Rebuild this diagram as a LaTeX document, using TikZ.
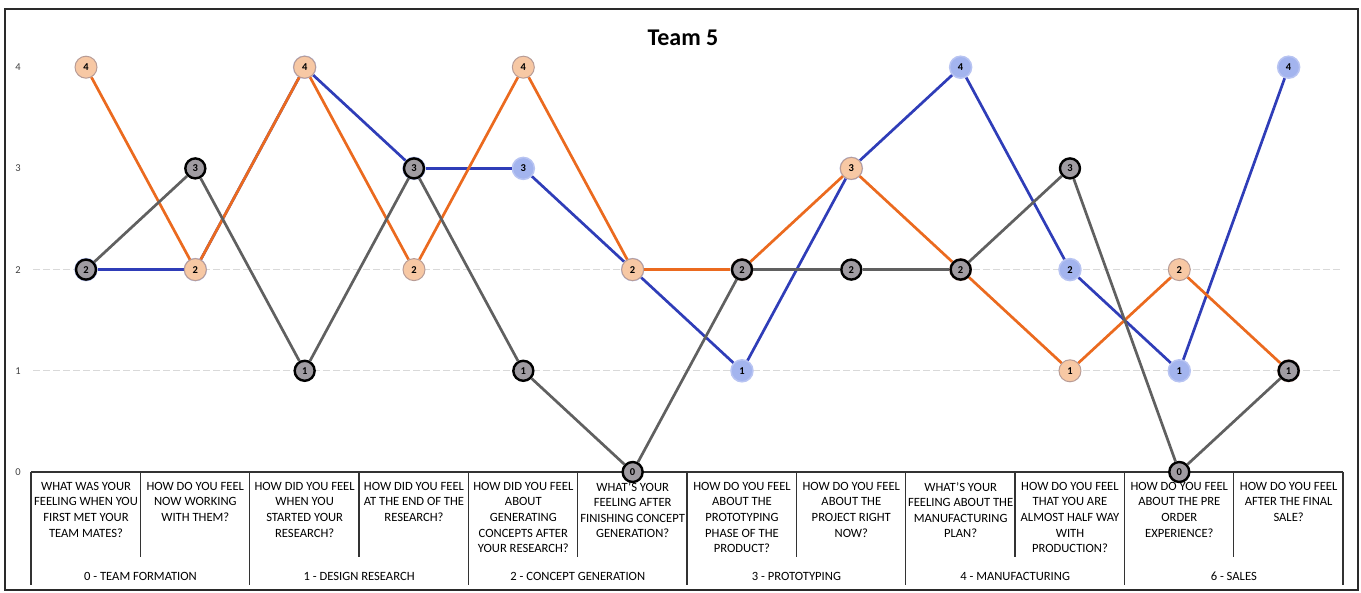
\documentclass[tikz,border=0pt]{standalone}
\usepackage{fontspec}
\setmainfont{Carlito}
\definecolor{serOrange}{HTML}{EB6A1F}
\definecolor{serBlue}{HTML}{2F3DB8}
\definecolor{serGray}{HTML}{606060}
\definecolor{peach}{HTML}{F7C8A4}
\definecolor{peachrim}{HTML}{B89C96}
\definecolor{skyfill}{HTML}{A3B4EE}
\definecolor{skyrim}{HTML}{B8C4F2}
\definecolor{dotgray}{HTML}{A09CA2}
\definecolor{framegray}{HTML}{2A2A2A}

\tikzset{
  mark base/.style={circle, inner sep=0pt, minimum size=22pt,
    font=\bfseries\fontsize{10.5}{10.5}\selectfont, text=black},
  bmark/.style={mark base, fill=skyfill, draw=skyrim, line width=1.5pt},
  omark/.style={mark base, fill=peach, draw=peachrim, line width=1pt},
  gmark/.style={mark base, fill=dotgray, draw=black, line width=2.4pt, minimum size=20pt},
  bline/.style={serBlue, line width=2.7pt},
  oline/.style={serOrange, line width=2.7pt},
  gline/.style={serGray, line width=2.7pt},
  gridline/.style={gray!30, line width=0.8pt, dash pattern=on 7pt off 3pt},
  axislabel/.style={font=\fontsize{10.5}{10.5}\selectfont, text=black!75},
  question/.style={anchor=north, inner sep=0pt, align=center,
    font=\fontsize{12.6}{15.6}\selectfont},
  stagelabel/.style={anchor=base, inner sep=0pt, font=\fontsize{12.6}{15}\selectfont},
  tableline/.style={black!80, line width=1.1pt}
}

\begin{document}
\begin{tikzpicture}[x=1pt,y=-1pt]
\useasboundingbox (0,0) rectangle (1361,593);

% outer frame
\draw[framegray, line width=1.8pt] (5,9) rectangle (1358,590);

% title
\node[font=\bfseries\fontsize{24}{24}\selectfont] (title) at (683,38) {Team 5};

% value axis labels and light gridlines
\foreach \v in {0,...,4}{
  \node[axislabel] (ax\v) at (18,{472-101.2*\v}) {\v};
}
\draw[gridline] (33,{472-101.2}) -- (1340,{472-101.2});
\draw[gridline] (33,{472-2*101.2}) -- (1340,{472-2*101.2});

% category table
\draw[tableline] (31,472) -- (1343,472);
\foreach \k in {0,...,12}{
  \pgfmathsetmacro\bx{31+109.33*\k}
  \ifodd\k
    \draw[tableline] (\bx,472) -- (\bx,557);
  \else
    \draw[tableline] (\bx,472) -- (\bx,585);
  \fi
}
\foreach \q [count=\i from 0] in {
  {WHAT WAS YOUR\\FEELING WHEN YOU\\FIRST MET YOUR\\TEAM MATES?},
  {HOW DO YOU FEEL\\NOW WORKING\\WITH THEM?},
  {HOW DID YOU FEEL\\WHEN YOU\\STARTED YOUR\\RESEARCH?},
  {HOW DID YOU FEEL\\AT THE END OF THE\\RESEARCH?},
  {HOW DID YOU FEEL\\ABOUT\\GENERATING\\CONCEPTS AFTER\\YOUR RESEARCH?},
  {WHAT'S YOUR\\FEELING AFTER\\FINISHING CONCEPT\\GENERATION?},
  {HOW DO YOU FEEL\\ABOUT THE\\PROTOTYPING\\PHASE OF THE\\PRODUCT?},
  {HOW DO YOU FEEL\\ABOUT THE\\PROJECT RIGHT\\NOW?},
  {WHAT'S YOUR\\FEELING ABOUT THE\\MANUFACTURING\\PLAN?},
  {HOW DO YOU FEEL\\THAT YOU ARE\\ALMOST HALF WAY\\WITH\\PRODUCTION?},
  {HOW DO YOU FEEL\\ABOUT THE PRE\\ORDER\\EXPERIENCE?},
  {HOW DO YOU FEEL\\AFTER THE FINAL\\SALE?}}{
  \node[question] (q\i) at ({86+109.33*\i},482) {\q};
}
\foreach \s [count=\i from 0] in {0 - TEAM FORMATION, 1 - DESIGN RESEARCH,
  2 - CONCEPT GENERATION, 3 - PROTOTYPING, 4 - MANUFACTURING, 6 - SALES}{
  \node[stagelabel] (st\i) at ({140.5+218.66*\i},580) {\s};
}

% blue series
\foreach \v [count=\i from 0] in {2,2,4,3,3,2,1,3,4,2,1,4}{
  \node[bmark] (b\i) at ({86+109.33*\i},{472-101.2*\v}) {\v};
}
\foreach \i in {0,...,10}{
  \pgfmathtruncatemacro\j{\i+1}
  \draw[bline] (b\i) -- (b\j);
}

% orange series
\foreach \v [count=\i from 0] in {4,2,4,2,4,2,2,3,2,1,2,1}{
  \node[omark] (o\i) at ({86+109.33*\i},{472-101.2*\v}) {\v};
}
\foreach \i in {0,...,10}{
  \pgfmathtruncatemacro\j{\i+1}
  \draw[oline] (o\i) -- (o\j);
}

% gray series
\foreach \v [count=\i from 0] in {2,3,1,3,1,0,2,2,2,3,0,1}{
  \node[gmark] (g\i) at ({86+109.33*\i},{472-101.2*\v}) {\v};
}
\foreach \i in {0,...,10}{
  \pgfmathtruncatemacro\j{\i+1}
  \draw[gline] (g\i) -- (g\j);
}
\end{tikzpicture}
\end{document}
